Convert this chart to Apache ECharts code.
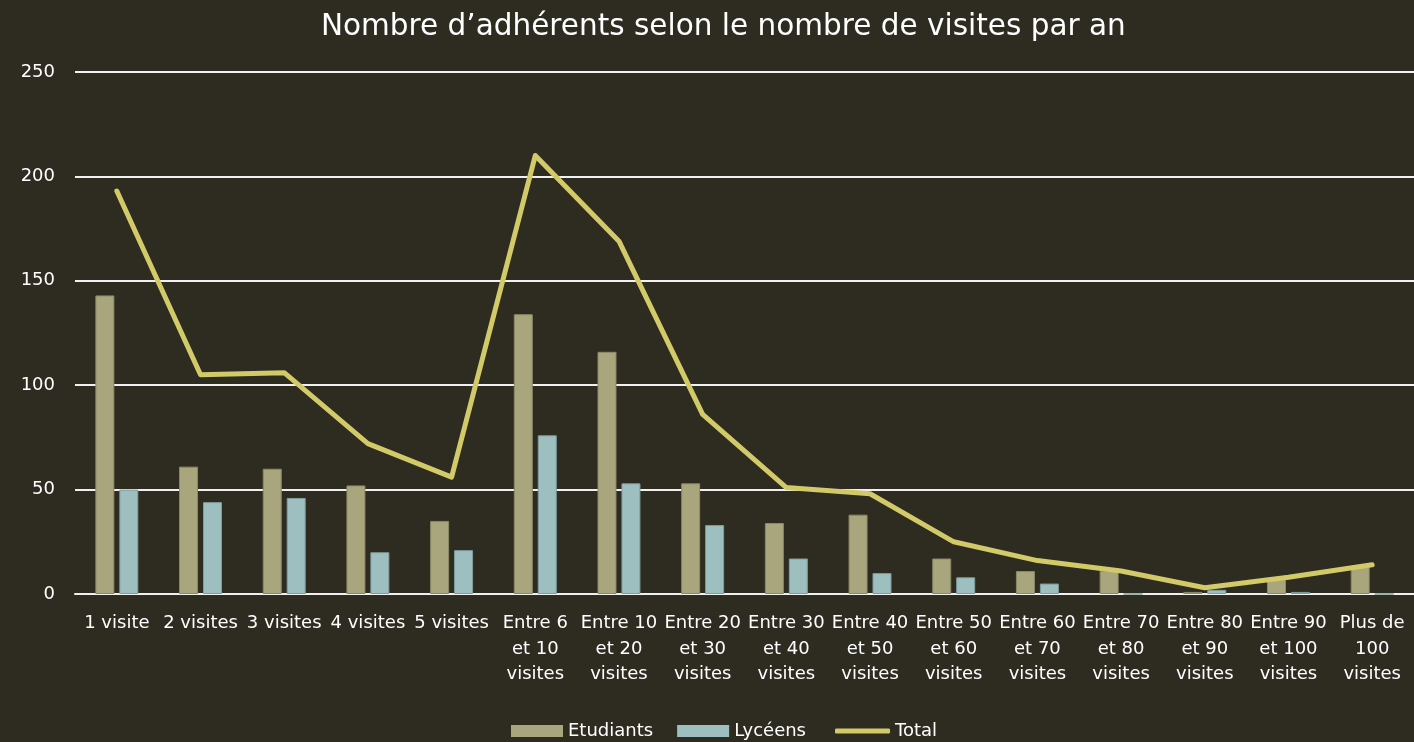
<!DOCTYPE html>
<html>
<head>
<meta charset="utf-8">
<script src="https://cdn.jsdelivr.net/npm/echarts@6/dist/echarts.min.js"></script>
<style>
  html, body { margin: 0; padding: 0; background: #2e2b21; }
  #chart { width: 1414px; height: 742px; }
</style>
</head>
<body>
<div id="chart"></div>
<script>
// categories and values
var categories = ['1 visite', '2 visites', '3 visites', '4 visites', '5 visites',
    'Entre 6\net 10\nvisites', 'Entre 10\net 20\nvisites', 'Entre 20\net 30\nvisites',
    'Entre 30\net 40\nvisites', 'Entre 40\net 50\nvisites', 'Entre 50\net 60\nvisites',
    'Entre 60\net 70\nvisites', 'Entre 70\net 80\nvisites', 'Entre 80\net 90\nvisites',
    'Entre 90\net 100\nvisites', 'Plus de\n100\nvisites'];
var etudiants = [143, 61, 60, 52, 35, 134, 116, 53, 34, 38, 17, 11, 11, 1, 7, 13];
var lyceens = [50, 44, 46, 20, 21, 76, 53, 33, 17, 10, 8, 5, 0, 2, 1, 0];
var total = [193, 105, 106, 72, 56, 210, 169, 86, 51, 48, 25, 16, 11, 3, 8, 14];
var yTicks = [0, 50, 100, 150, 200, 250];

var font = '"DejaVu Sans", sans-serif';
var myChart = echarts.init(document.getElementById('chart'));
myChart.setOption({
    backgroundColor: '#2e2b21',
    title: {
        text: 'Nombre d\u2019adhérents selon le nombre de visites par an',
        left: 316,
        top: 7,
        textStyle: { color: '#ffffff', fontSize: 29.5, fontWeight: 'normal', fontFamily: font }
    },
    legend: [{
        left: 506,
        top: 717,
        itemGap: 24,
        itemWidth: 52,
        itemHeight: 12,
        itemStyle: { borderWidth: 0 },
        textStyle: { color: '#ffffff', fontSize: 18, fontFamily: font },
        data: [
            { name: 'Etudiants', icon: 'rect' },
            { name: 'Lycéens', icon: 'rect' }
        ]
    }, {
        left: 830,
        top: 717,
        itemWidth: 55,
        itemHeight: 5,
        textStyle: { color: '#ffffff', fontSize: 18, fontFamily: font },
        data: [{ name: 'Total', icon: 'roundRect' }]
    }],
    grid: { left: 75, right: 0, top: 72, bottom: 148 },
    xAxis: {
        type: 'category',
        data: categories,
        axisLine: { show: true, lineStyle: { color: '#f0f0f0', width: 2 } },
        axisTick: { show: false },
        axisLabel: {
            color: '#ffffff', fontSize: 18, fontFamily: font, interval: 0,
            lineHeight: 25.5, margin: 17
        }
    },
    yAxis: {
        type: 'value',
        min: yTicks[0],
        max: yTicks[yTicks.length - 1],
        interval: 50,
        axisLine: { show: false },
        axisTick: { show: false },
        splitLine: { lineStyle: { color: '#f0f0f0', width: 2 } },
        axisLabel: { color: '#ffffff', fontSize: 18, fontFamily: font, margin: 20 }
    },
    series: [{
        name: 'Etudiants',
        type: 'bar',
        data: etudiants,
        barWidth: 19,
        barGap: '26%',
        itemStyle: { color: '#a9a67e', borderColor: '#8b8966', borderWidth: 1 }
    }, {
        name: 'Lycéens',
        type: 'bar',
        data: lyceens,
        barWidth: 19,
        itemStyle: { color: '#9ebfc0', borderColor: '#7f9d9e', borderWidth: 1 }
    }, {
        name: 'Total',
        type: 'line',
        data: total,
        symbol: 'none',
        lineStyle: { color: '#d2c969', width: 5, cap: 'round', join: 'round' },
        itemStyle: { color: '#d2c969' }
    }]
});
</script>
</body>
</html>
